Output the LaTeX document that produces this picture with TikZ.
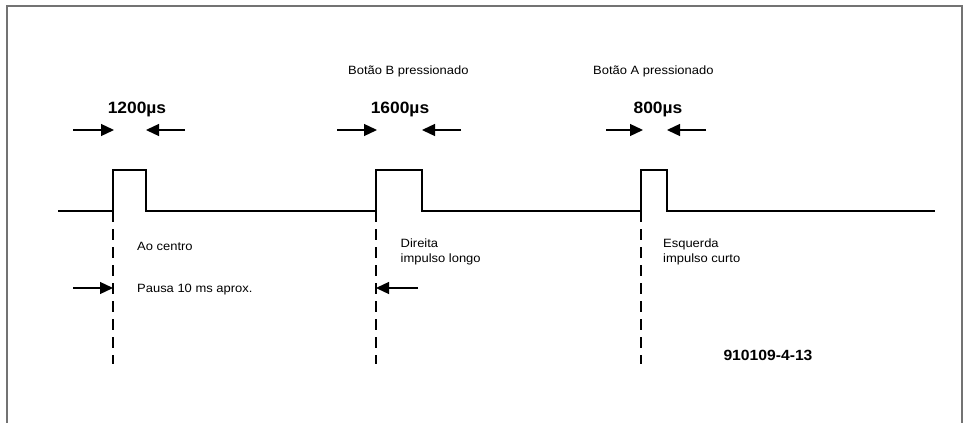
\documentclass[tikz,border=0pt]{standalone}
\usepackage{fontspec}
\setmainfont{Liberation Sans}
\usetikzlibrary{arrows.meta}
\begin{document}
\begin{tikzpicture}[x=1pt,y=-1pt,
  frame/.style={draw=black!55, line width=1.6pt},
  sig/.style={line width=1.9pt, line join=miter},
  guide/.style={line width=1.5pt, dash pattern=on 11pt off 7pt},
  dimarrow/.style={line width=1.3pt, -{Triangle[length=13pt,width=12pt]}},
  lbl/.style={font=\addfontfeature{FakeStretch=1.08}\fontsize{12}{14}\selectfont, inner sep=0pt, anchor=base west},
  big/.style={font=\addfontfeature{FakeStretch=1.06}\bfseries\fontsize{16.4}{19}\selectfont, inner sep=0pt, anchor=base},
  code/.style={font=\addfontfeature{FakeStretch=1.06}\bfseries\fontsize{14.8}{17}\selectfont, inner sep=0pt, anchor=base}]
\useasboundingbox (0,0) rectangle (967,423);
% frame (open at the bottom)
\draw[frame] (7,423) -- (7,6) -- (962,6) -- (962,423);

% signal
\coordinate (s0) at (58,211);
\coordinate (r1) at (113,211); \coordinate (f1) at (146,211);
\coordinate (r2) at (376,211); \coordinate (f2) at (422,211);
\coordinate (r3) at (641,211); \coordinate (f3) at (667,211);
\coordinate (s1) at (935,211);
\draw[sig] (s0) -- (r1) -- ++(0,-41) -| (f1) -- (r2) -- ++(0,-41) -| (f2)
  -- (r3) -- ++(0,-41) -| (f3) -- (s1);

% dashed guides
\coordinate (d1) at (113,364); \coordinate (d2) at (376,364); \coordinate (d3) at (641,364);
\draw[guide] (r1) -- (d1);
\draw[guide] (r2) -- (d2);
\draw[guide] (r3) -- (d3);

% width arrows
\coordinate (a1l) at (73,130); \coordinate (a1lt) at (114,130);
\coordinate (a1r) at (185,130); \coordinate (a1rt) at (146,130);
\draw[dimarrow] (a1l) -- (a1lt);
\draw[dimarrow] (a1r) -- (a1rt);
\coordinate (a2l) at (337,130); \coordinate (a2lt) at (377,130);
\coordinate (a2r) at (461,130); \coordinate (a2rt) at (422,130);
\draw[dimarrow] (a2l) -- (a2lt);
\draw[dimarrow] (a2r) -- (a2rt);
\coordinate (a3l) at (606,130); \coordinate (a3lt) at (643,130);
\coordinate (a3r) at (706,130); \coordinate (a3rt) at (667,130);
\draw[dimarrow] (a3l) -- (a3lt);
\draw[dimarrow] (a3r) -- (a3rt);

% pause arrows
\coordinate (p1) at (73,288); \coordinate (p1t) at (113,288);
\coordinate (p2) at (418,288); \coordinate (p2t) at (376,288);
\draw[dimarrow] (p1) -- (p1t);
\draw[dimarrow] (p2) -- (p2t);

% labels
\node[big] (w1) at (137,113) {1200µs};
\node[big] (w2) at (400,113) {1600µs};
\node[big] (w3) at (658,113) {800µs};
\node[lbl] (bb) at (348,74.5) {Botão B pressionado};
\node[lbl] (ba) at (593,74.5) {Botão A pressionado};
\node[lbl] (ac) at (137,250.5) {Ao centro};
\node[lbl] (pa) at (137,292) {Pausa 10 ms aprox.};
\node[lbl] (di) at (400.5,247.5) {Direita};
\node[lbl] (dl) at (400.5,262) {impulso longo};
\node[lbl] (es) at (663,247.5) {Esquerda};
\node[lbl] (ec) at (663,262) {impulso curto};
\node[code] (cd) at (768,360) {910109-4-13};
\end{tikzpicture}
\end{document}
